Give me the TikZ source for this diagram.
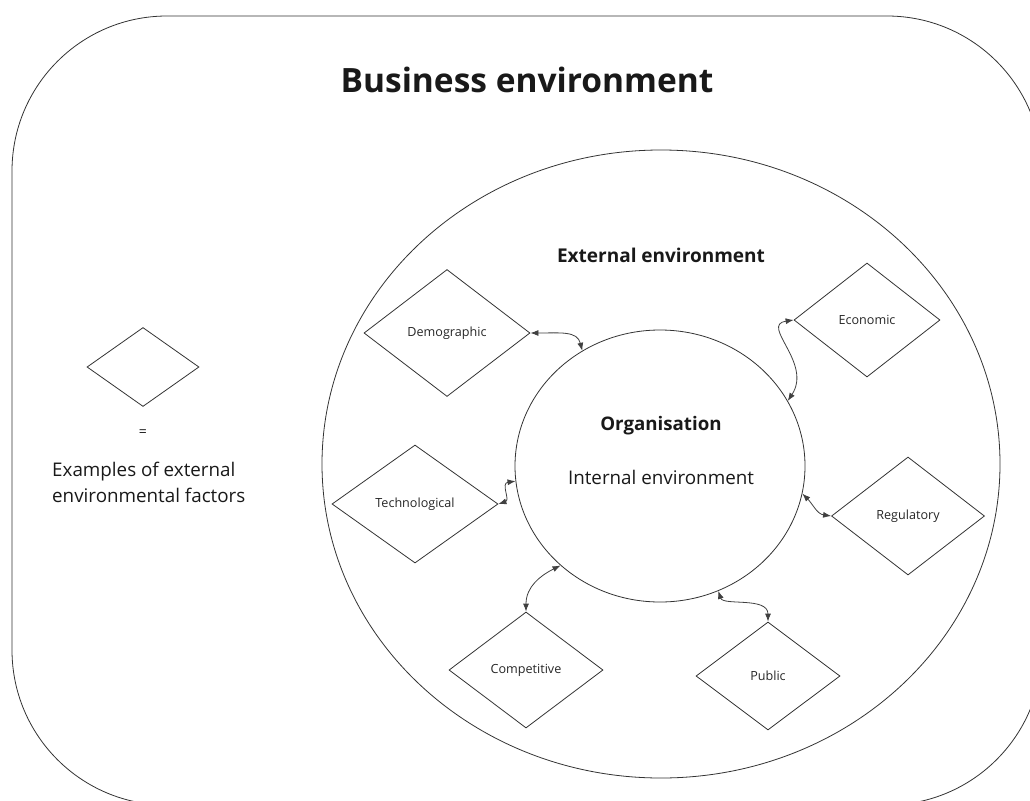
\documentclass[tikz,border=0pt]{standalone}
\usepackage{fontspec}
\setmainfont{Open Sans}
\usetikzlibrary{shapes.geometric,arrows.meta}

\tikzset{
  ink/.style={draw=black!80, line width=0.8pt},
  factor/.style={diamond, ink, inner sep=0pt, aspect=1.3,
    font=\fontsize{12.6}{15}\selectfont, text=black!85},
  link/.style={draw=black!75, line width=0.8pt,
    {Latex[length=8pt,width=6pt]}-{Latex[length=8pt,width=6pt]}},
  caption/.style={text=black!90, inner sep=0pt}
}

\begin{document}
\begin{tikzpicture}[x=1pt,y=-1pt]
  \useasboundingbox (0,0) rectangle (1030,800);
  \clip (0,0) rectangle (1030,800);

  % business environment frame
  \draw[ink, rounded corners=155pt] (12,16) rectangle (1042,805);

  \node[caption, font=\fontsize{33.5}{40}\selectfont\bfseries] (title) at (527,80) {Business environment};

  % external environment and organisation
  \node[ellipse, ink, minimum width=678pt, minimum height=628pt] (ext) at (661,464) {};
  \node[caption, font=\fontsize{19}{23}\selectfont\bfseries] (extlabel) at (661,255) {External environment};

  \node[ellipse, ink, minimum width=290pt, minimum height=272pt] (org) at (660,466) {};
  \node[caption, font=\fontsize{18.7}{22}\selectfont\bfseries] (orglabel) at (661,426) {Organisation};
  \node[caption, font=\fontsize{18.8}{22}\selectfont] (intlabel) at (661,477) {Internal environment};

  % external factors
  \node[factor, minimum width=166pt, minimum height=127pt] (dem) at (447,333) {Demographic};
  \node[factor, minimum width=146pt, minimum height=114pt] (eco) at (867,320) {Economic};
  \node[factor, minimum width=166pt, minimum height=118pt] (tec) at (415,504) {Technological};
  \node[factor, minimum width=153pt, minimum height=118pt] (reg) at (908,516) {Regulatory};
  \node[factor, minimum width=154pt, minimum height=116pt] (com) at (526,670) {Competitive};
  \node[factor, minimum width=144pt, minimum height=108pt] (pub) at (768,676) {Public};

  % two-way links between the factors and the organisation
  \draw[link] (dem.east) .. controls +(30,0) and +(-5,-20) .. (org.124.6);
  \draw[link] (org.27.6) .. controls +(25,-38) and +(-34,5) .. (eco.west);
  \draw[link] (tec.east) .. controls +(12,-4) and +(-15,2) .. (org.186.4);
  \draw[link] (org.349.5) .. controls +(10,10) and +(-14,-2) .. (reg.west);
  \draw[link] (com.north) .. controls +(0,-25) and +(-20,10) .. (org.225);
  \draw[link] (org.295.8) .. controls +(5,15) and +(0,-25) .. (pub.north);

  % legend
  \node[diamond, ink, inner sep=0pt, minimum width=112pt, minimum height=79pt] (key) at (143,367) {};
  \node[caption, font=\fontsize{14}{16}\selectfont] (equals) at (143,433) {=};
  \node[caption, font=\fontsize{18.8}{26}\selectfont, align=left, anchor=north west] (keytext) at (52,462)
    {Examples of external\\environmental factors};
\end{tikzpicture}
\end{document}
